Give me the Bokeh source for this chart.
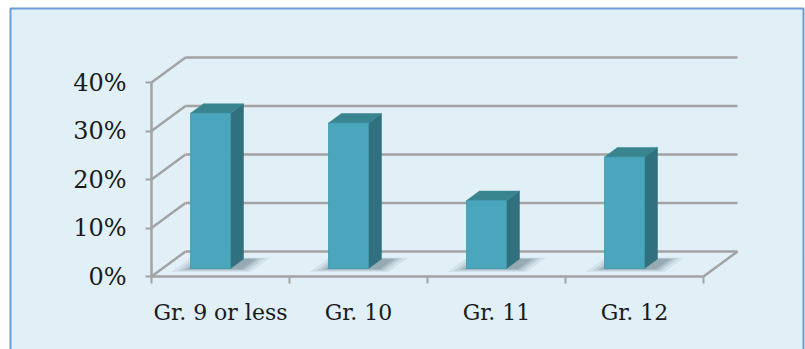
from bokeh.plotting import figure
from bokeh.models import Range1d, LinearAxis, FixedTicker, PrintfTickFormatter
from bokeh.embed import file_html
from bokeh.resources import INLINE

# Share of respondents by last grade completed (percent)
categories = ["Gr. 9 or less", "Gr. 10", "Gr. 11", "Gr. 12"]
shares = [32, 30, 14, 23]
y_ticks = [0, 10, 20, 30, 40]

# Canvas and pseudo-3D layout (pixels)
W, H = 805, 349
ORIGIN_PX = (151, 276)      # front-left corner of the floor
PX_PER_CAT = 138
PX_PER_PCT = 4.85
DEPTH_PX = (34, 25)         # oblique offset of the back wall


def to_x(px):
    return (px - ORIGIN_PX[0]) / PX_PER_CAT


def to_y(py):
    return (ORIGIN_PX[1] - py) / PX_PER_PCT


DX = DEPTH_PX[0] / PX_PER_CAT
DY = DEPTH_PX[1] / PX_PER_PCT

GRID = "#a3a3a3"
FRONT = "#4aa6bd"
SIDE = "#30707f"
TOP = "#38858f"
TEXT = "#1a1a1a"
FONT = "DejaVu Serif"

p = figure(width=W, height=H,
           x_range=Range1d(to_x(0), to_x(W)), y_range=Range1d(to_y(H), to_y(0)),
           output_backend="svg", toolbar_location=None,
           x_axis_location=None, y_axis_location=None, min_border=0)
p.outline_line_color = None
p.background_fill_color = "white"
p.border_fill_color = "white"
p.grid.visible = False

# chart panel
p.quad(left=to_x(10), right=to_x(803), top=to_y(8), bottom=to_y(H + 6),
       fill_color="#e1eff7", line_color="#6b9ed6", line_width=2)

n = len(categories)

# back wall gridlines and the side diagonals
p.segment(x0=[DX] * len(y_ticks), y0=[t + DY for t in y_ticks],
          x1=[n + DX] * len(y_ticks), y1=[t + DY for t in y_ticks],
          line_color=GRID, line_width=2.5)
p.segment(x0=[0] * len(y_ticks), y0=y_ticks,
          x1=[DX] * len(y_ticks), y1=[t + DY for t in y_ticks],
          line_color=GRID, line_width=2.5)
# right edge of the floor
p.segment(x0=[n], y0=[0], x1=[n + DX], y1=[DY], line_color=GRID, line_width=2.5)

# bar footprint inside each category (category units / depth fraction)
A, B = 0.204, 0.494
D0, D1 = 0.32, 0.70


def proj(x3, d, y3=0.0):
    return x3 + d * DX, y3 + d * DY


# soft floor shadows
for grow, alpha in [(0.11, 0.07), (0.075, 0.10), (0.045, 0.13), (0.02, 0.15)]:
    xs, ys = [], []
    for i in range(n):
        sx = 0.07
        pts = [proj(i + A - grow + sx * 0.1, D0 - grow * 1.3),
               proj(i + B + grow + sx, D0 - grow * 1.3),
               proj(i + B + grow + sx, D1 + grow * 0.5),
               proj(i + A - grow + sx * 0.1, D1 + grow * 0.5)]
        xs.append([q[0] for q in pts])
        ys.append([q[1] for q in pts])
    p.patches(xs, ys, fill_color="#1f3f4a", fill_alpha=alpha, line_color=None)

# bars: front, side and top faces
front_l, front_r, front_b, front_t = [], [], [], []
side_x, side_y, top_x, top_y = [], [], [], []
for i, v in enumerate(shares):
    fl, fb = proj(i + A, D0)
    fr, _ = proj(i + B, D0)
    front_l.append(fl)
    front_r.append(fr)
    front_b.append(fb)
    front_t.append(fb + v)
    s = [proj(i + B, D0), proj(i + B, D1), proj(i + B, D1, v), proj(i + B, D0, v)]
    side_x.append([q[0] for q in s])
    side_y.append([q[1] for q in s])
    t = [proj(i + A, D0, v), proj(i + B, D0, v), proj(i + B, D1, v), proj(i + A, D1, v)]
    top_x.append([q[0] for q in t])
    top_y.append([q[1] for q in t])

p.patches(side_x, side_y, fill_color=SIDE, line_color=SIDE, line_width=0.5)
p.patches(top_x, top_y, fill_color=TOP, line_color=TOP, line_width=0.5)
p.quad(left=front_l, right=front_r, bottom=front_b, top=front_t,
       fill_color=FRONT, line_color="#3f97ad", line_width=0.8)

# value axis on the front plane
yaxis = LinearAxis(fixed_location=0, bounds=(0, 40),
                   ticker=FixedTicker(ticks=y_ticks),
                   formatter=PrintfTickFormatter(format="%d%%"))
yaxis.axis_line_color = GRID
yaxis.axis_line_width = 2.5
yaxis.major_tick_line_color = GRID
yaxis.major_tick_line_width = 2
yaxis.major_tick_out = 6
yaxis.major_tick_in = 0
yaxis.minor_tick_line_color = None
yaxis.major_label_standoff = 19
yaxis.major_label_text_font = FONT
yaxis.major_label_text_font_size = "24px"
yaxis.major_label_text_color = TEXT
p.add_layout(yaxis, "left")

# category axis: ticks at category edges, labels at centres
centres = [i + 0.5 for i in range(n)]
xaxis = LinearAxis(fixed_location=0, bounds=(0, n),
                   ticker=FixedTicker(ticks=centres, minor_ticks=list(range(n + 1))))
xaxis.major_label_overrides = {c: lab for c, lab in zip(centres, categories)}
xaxis.axis_line_color = GRID
xaxis.axis_line_width = 2.5
xaxis.major_tick_line_color = None
xaxis.major_tick_out = 0
xaxis.major_tick_in = 0
xaxis.minor_tick_line_color = GRID
xaxis.minor_tick_line_width = 2
xaxis.minor_tick_out = 7
xaxis.minor_tick_in = 0
xaxis.major_label_standoff = 16
xaxis.major_label_text_font = FONT
xaxis.major_label_text_font_size = "22px"
xaxis.major_label_text_color = TEXT
p.add_layout(xaxis, "below")

open("out.html", "w").write(file_html(p, INLINE))
